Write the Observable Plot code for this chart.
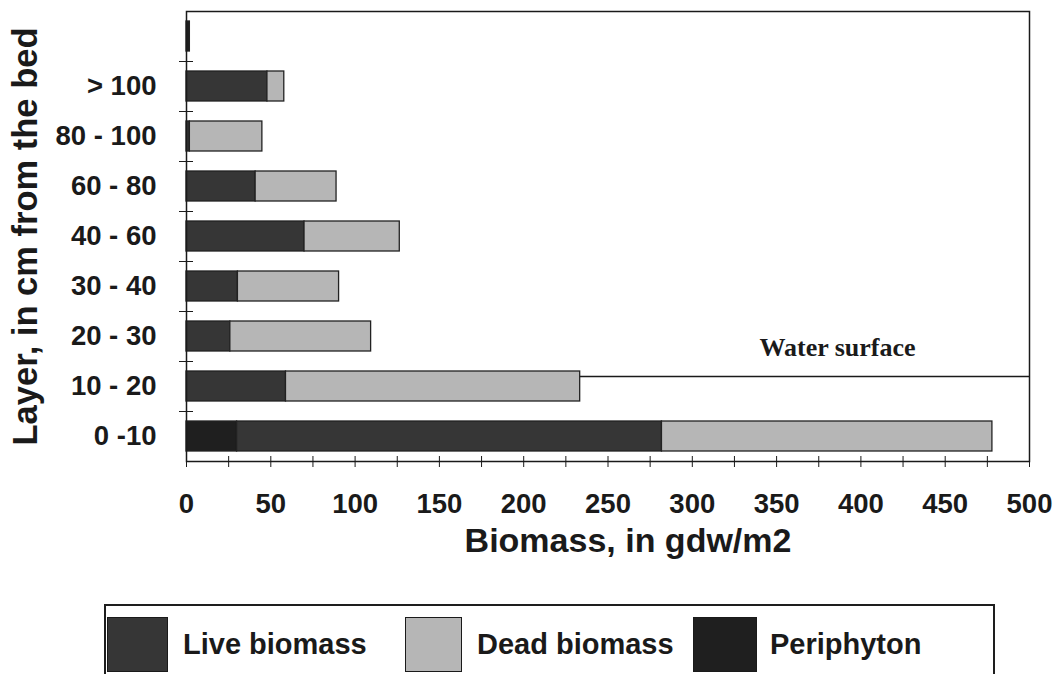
<!DOCTYPE html>
<html><head><meta charset="utf-8">
<script src="https://cdn.jsdelivr.net/npm/d3@7"></script>
<script src="https://cdn.jsdelivr.net/npm/@observablehq/plot@0.6"></script>
<style>
body{margin:0;background:#fff;font-family:"Liberation Sans",Arial,sans-serif;}
#wrap{position:relative;width:1060px;height:674px;overflow:hidden;background:#fff;}
#chart{position:absolute;left:0;top:0;}
#legend{position:absolute;left:104px;top:604px;width:887px;height:100px;border:2px solid #1e1e1e;}
.sw{position:absolute;top:11px;height:55px;box-sizing:border-box;border:1.5px solid #1a1a1a;}
.lb{position:absolute;top:11px;line-height:55px;font-weight:bold;font-size:29px;color:#1a1a1a;white-space:nowrap;}
</style></head><body>
<div id="wrap"><div id="chart"></div><div id="legend"></div></div>
<script>
// Layers (top to bottom); the top unlabeled row holds the periphyton
const layers = [" ", "> 100", "80 - 100", "60 - 80", "40 - 60", "30 - 40", "20 - 30", "10 - 20", "0 -10"];
const periphyton   = [2, 0, 0, 0, 0, 0, 0, 0, 30];
const liveBiomass  = [0, 48, 2, 41, 70, 30.5, 26, 59, 252];
const deadBiomass  = [0, 10, 43, 48, 56.5, 60, 83.5, 174.5, 196];
const seriesNames  = ["Periphyton", "Live biomass", "Dead biomass"];
const seriesColors = ["#1f1f1f", "#363636", "#b6b6b6"];
const legendOrder  = ["Live biomass", "Dead biomass", "Periphyton"];
const xTickLabels  = [0, 50, 100, 150, 200, 250, 300, 350, 400, 450, 500];
const xMinorTicks  = [0, 25, 50, 75, 100, 125, 150, 175, 200, 225, 250, 275, 300, 325, 350, 375, 400, 425, 450, 475, 500];
const xTitle = "Biomass, in gdw/m2";
const yTitle = "Layer, in cm from the bed";
const waterLabel = "Water surface";
const waterLayer = "10 - 20";
const waterLabelLayer = "20 - 30";

const rows = [];
layers.forEach((l, i) => {
  rows.push({layer: l, type: "Periphyton", value: periphyton[i]});
  rows.push({layer: l, type: "Live biomass", value: liveBiomass[i]});
  rows.push({layer: l, type: "Dead biomass", value: deadBiomass[i]});
});

const ink = "#1a1a1a";
const plot = Plot.plot({
  width: 1060, height: 600,
  marginLeft: 186, marginRight: 31, marginTop: 11, marginBottom: 139,
  style: {fontFamily: "'Liberation Sans', Arial, sans-serif", background: "transparent", color: ink, fontWeight: "bold"},
  x: {domain: [0, 500]},
  y: {domain: layers, paddingInner: 0.4, paddingOuter: 0.2},
  color: {domain: seriesNames, range: seriesColors},
  marks: [
    Plot.ruleY([waterLayer], {y: d => d, dy: -10, stroke: ink, strokeWidth: 1.5}),
    Plot.barX(rows, Plot.stackX({x: "value", y: "layer", fill: "type", order: seriesNames, stroke: "#222", strokeWidth: 1.3})),
    Plot.frame({stroke: ink, strokeWidth: 1.5}),
    Plot.axisX({ticks: xMinorTicks, tickSize: 11, dy: -5, tickFormat: () => "", label: null, stroke: ink}),
    Plot.axisX({ticks: xTickLabels, tickSize: 0, tickPadding: 32, fontSize: 27.5, label: null}),
    Plot.axisY({ticks: layers.slice(1), tickSize: 14, dx: 7, dy: -25, tickFormat: () => "", label: null, stroke: ink}),
    Plot.axisY({tickSize: 0, tickPadding: 30, fontSize: 27.5, label: null}),
    Plot.text([yTitle], {text: d => d, frameAnchor: "left", textAnchor: "middle", rotate: -90, dx: -161, fontSize: 34.5}),
    Plot.text([xTitle], {text: d => d, frameAnchor: "bottom", textAnchor: "middle", dx: 20, dy: 90, fontSize: 34}),
    Plot.text([waterLabel], {text: d => d, y: () => waterLabelLayer, frameAnchor: "right", textAnchor: "middle", dx: -192, dy: 11, fontSize: 26, fontFamily: "'Liberation Serif', 'Times New Roman', serif"})
  ]
});
document.getElementById("chart").appendChild(plot);

// Legend below the chart
const legend = document.getElementById("legend");
const swatchLeft = {"Live biomass": 1, "Dead biomass": 299, "Periphyton": 587};
const swatchWidth = {"Live biomass": 61, "Dead biomass": 57, "Periphyton": 64};
const labelLeft = {"Live biomass": 77, "Dead biomass": 371, "Periphyton": 664};
legendOrder.forEach(name => {
  const sw = document.createElement("div");
  sw.className = "sw";
  sw.style.left = swatchLeft[name] + "px";
  sw.style.width = swatchWidth[name] + "px";
  sw.style.background = seriesColors[seriesNames.indexOf(name)];
  legend.appendChild(sw);
  const lb = document.createElement("div");
  lb.className = "lb";
  lb.style.left = labelLeft[name] + "px";
  lb.textContent = name;
  legend.appendChild(lb);
});
</script>
</body></html>
